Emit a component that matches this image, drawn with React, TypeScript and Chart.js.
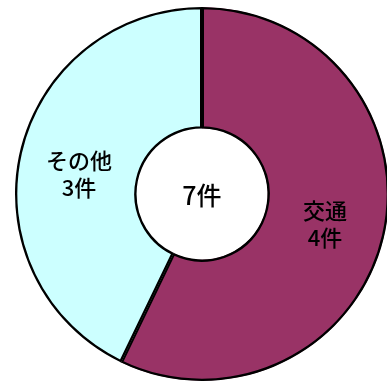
import React, { useEffect, useRef } from "react";
import { Chart, registerables } from "chart.js";

Chart.register(...registerables);

const categories = ["交通", "その他"];
const counts = [4, 3];
const colors = ["#993366", "#CCFFFF"];
const unit = "件";

const labelPlugin = {
  id: "sliceLabels",
  afterDatasetsDraw(chart: any) {
    const ctx = chart.ctx;
    const meta = chart.getDatasetMeta(0);
    ctx.save();
    ctx.fillStyle = "#000";
    ctx.textAlign = "center";
    ctx.textBaseline = "middle";
    ctx.font = "500 22px 'Noto Sans CJK JP', sans-serif";
    meta.data.forEach((arc: any, i: number) => {
      const p = arc.tooltipPosition();
      const lines = [categories[i], counts[i] + unit];
      const lh = 27;
      const dy = i === 1 ? 8 : 2;
      lines.forEach((t, k) => {
        ctx.fillText(t, p.x, p.y + (k - (lines.length - 1) / 2) * lh + dy);
      });
    });
    const first = meta.data[0];
    const total = counts.reduce((a, b) => a + b, 0);
    ctx.font = "500 25px 'Noto Sans CJK JP', sans-serif";
    ctx.fillText(total + unit, first.x, first.y + 1);
    ctx.restore();
  },
};

export default function App() {
  const ref = useRef<HTMLCanvasElement>(null);
  useEffect(() => {
    if (!ref.current) return;
    const chart = new Chart(ref.current, {
      type: "doughnut",
      data: {
        labels: categories,
        datasets: [
          {
            data: counts,
            backgroundColor: colors,
            borderColor: "#000",
            borderWidth: 2,
            borderAlign: "inner" as any,
          },
        ],
      },
      options: {
        animation: false,
        responsive: false,
        cutout: "35%",
        layout: { padding: { left: 15, right: 15, top: 7, bottom: 7 } },
        plugins: { legend: { display: false }, tooltip: { enabled: false } },
      },
      plugins: [labelPlugin],
    });
    return () => chart.destroy();
  }, []);
  return (
    <div
      style={{
        position: "fixed",
        left: 0,
        top: 0,
        width: 387,
        height: 383,
        overflow: "hidden",
        background: "#fff",
      }}
    >
      <canvas ref={ref} width={404} height={388} style={{ display: "block" }} />
    </div>
  );
}
